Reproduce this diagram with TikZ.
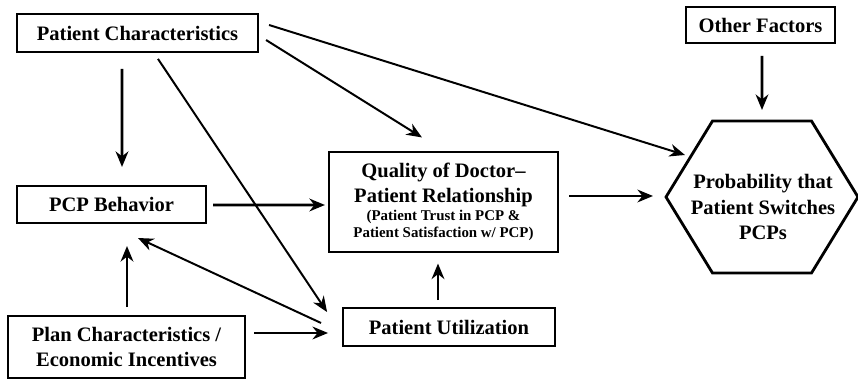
\documentclass[tikz,border=0pt]{standalone}
\usepackage{fontspec}
\setmainfont{Liberation Serif}
\usetikzlibrary{arrows.meta,calc}

\newcommand{\smalltxt}{\fontsize{10.6}{12.8}\selectfont}

\begin{document}
\begin{tikzpicture}
  [x=0.025cm,y=-0.025cm,
   every node/.style={font=\fontsize{14.6}{17.8}\selectfont\bfseries,align=center,inner sep=0pt},
   box/.style={draw,line width=1.3pt},
   arr/.style={-{Stealth[length=11pt,width=9pt,inset=3.5pt]},line width=1.4pt},
   bigarr/.style={arr,line width=2pt}]
  \useasboundingbox (0,0) rectangle (858,379);

  \node[box,minimum width=6.03cm,minimum height=0.95cm] (pc) at (137.5,33) {Patient Characteristics};
  \node[box,minimum width=3.73cm,minimum height=0.9cm] (other) at (760.5,25) {Other Factors};
  \node[box,minimum width=4.73cm,minimum height=0.93cm] (pcp) at (111.5,204.5) {PCP Behavior};
  \node[box,minimum width=5.73cm,minimum height=2.48cm] (qual) at (443.5,202)
    {Quality of Doctor--\\Patient Relationship\\[-5pt]{\smalltxt(Patient Trust in PCP \&}\\[-5.7pt]{\smalltxt Patient Satisfaction w/ PCP)}};
  \node[box,minimum width=5.3cm,minimum height=0.95cm] (pu) at (449,327) {Patient Utilization};
  \node[box,minimum width=5.93cm,minimum height=1.55cm] (plan) at (126.5,347) {Plan Characteristics /\\Economic Incentives};

  % hexagon
  \coordinate (hc) at (762,197);
  \node (prob) at (763,207) {Probability that\\Patient Switches\\PCPs};
  \draw[line width=2pt,line join=miter]
    ($(hc)+(-49.5,-76)$) -- ($(hc)+(49.5,-76)$) -- ($(hc)+(96,0)$) --
    ($(hc)+(49.5,76)$) -- ($(hc)+(-49.5,76)$) -- ($(hc)+(-96,0)$) -- cycle;

  \draw[bigarr] ($(pc.south)+(-15.5,16)$) -- ($(pcp.north)+(10.5,-18)$);
  \draw[arr] ($(pc.south)+(20.5,6)$) -- ($(pu.west)+(-15,-15)$);
  \draw[arr] ($(pc.east)+(7,7)$) -- ($(qual.north)+(-21.5,-14)$);
  \draw[arr] ($(pc.east)+(10,-8)$) -- ($(hc)+(-77,-42)$);
  \draw[bigarr] ($(other.south)+(1.5,12)$) -- ($(hc)+(0,-87)$);
  \draw[bigarr] ($(pcp.east)+(6,0.5)$) -- ($(qual.west)+(-3,3)$);
  \draw[bigarr] ($(qual.east)+(10,-6)$) -- ($(hc)+(-109,-1)$);
  \draw[bigarr] ($(plan.north)+(0.5,-8)$) -- ($(pcp.south)+(15.5,22)$);
  \draw[arr] ($(pu.west)+(-21,-4)$) -- ($(pcp.south)+(26.5,14)$);
  \draw[bigarr] ($(plan.east)+(8,-14)$) -- ($(pu.west)+(-14,6)$);
  \draw[bigarr] ($(pu.north)+(-11,-7)$) -- ($(qual.south)+(-5.5,11)$);

\end{tikzpicture}
\end{document}
